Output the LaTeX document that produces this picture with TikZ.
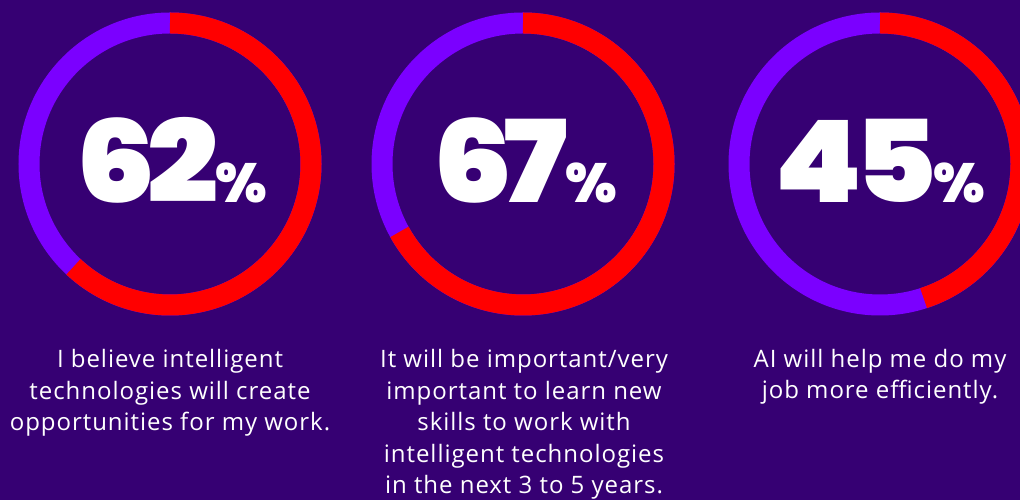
\documentclass[tikz,border=0pt]{standalone}
\usepackage{fontspec}
\setmainfont{Open Sans}[LetterSpace=4]
\newfontfamily\numfont{Poppins Black}
\definecolor{bgpurple}{HTML}{360073}
\definecolor{ringpurple}{HTML}{7B00FF}
\definecolor{ringred}{HTML}{FF0000}
\newcommand\pctsign{{\fontsize{55}{55}\selectfont\%}}
\newcommand\bignumber[2]{\scalebox{1.1}[1]{#1\kern-8pt#2}\kern-3pt\pctsign}
\tikzset{
  ringbase/.style={ringpurple, line width=21pt},
  ringpart/.style={ringred, line width=21pt},
  bignum/.style={text=white, anchor=base, inner sep=0pt, font=\numfont\fontsize{114}{114}\selectfont},
  caption/.style={text=white, anchor=base, align=center, inner sep=0pt, font=\fontsize{24}{31.5}\selectfont}
}
\begin{document}
\begin{tikzpicture}[x=1pt,y=1pt]
\fill[bgpurple] (0,0) rectangle (1020,500);
\useasboundingbox (0,0) rectangle (1020,500);
\clip (0,0) rectangle (1020,500);
% ring 1: 62%
\coordinate (c1) at (170,336);
\draw[ringbase] (c1) circle[radius=141];
\draw[ringpart] (c1) ++(90:141) arc[start angle=90, end angle=-133.2, radius=141];
\node[bignum] (n1) at (172,297) {\bignumber{6}{2}};
% ring 2: 67%
\coordinate (c2) at (523,336);
\draw[ringbase] (c2) circle[radius=141];
\draw[ringpart] (c2) ++(90:141) arc[start angle=90, end angle=-151.2, radius=141];
\node[bignum] (n2) at (525,297) {\bignumber{6}{7}};
% ring 3: 45%
\coordinate (c3) at (880,336);
\draw[ringbase] (c3) circle[radius=141];
\draw[ringpart] (c3) ++(90:141) arc[start angle=90, end angle=-72, radius=141];
\node[bignum] (n3) at (880,297) {\bignumber{4}{5}};
% captions (anchor base = last line baseline)
\node[caption] (t1) at (170,69) {I believe intelligent\\technologies will create\\opportunities for my work.};
\node[caption] (t2) at (524,6) {It will be important/very\\important to learn new\\skills to work with\\intelligent technologies\\in the next 3 to 5 years.};
\node[caption] (t3) at (880,101) {AI will help me do my\\job more efficiently.};
\end{tikzpicture}
\end{document}
